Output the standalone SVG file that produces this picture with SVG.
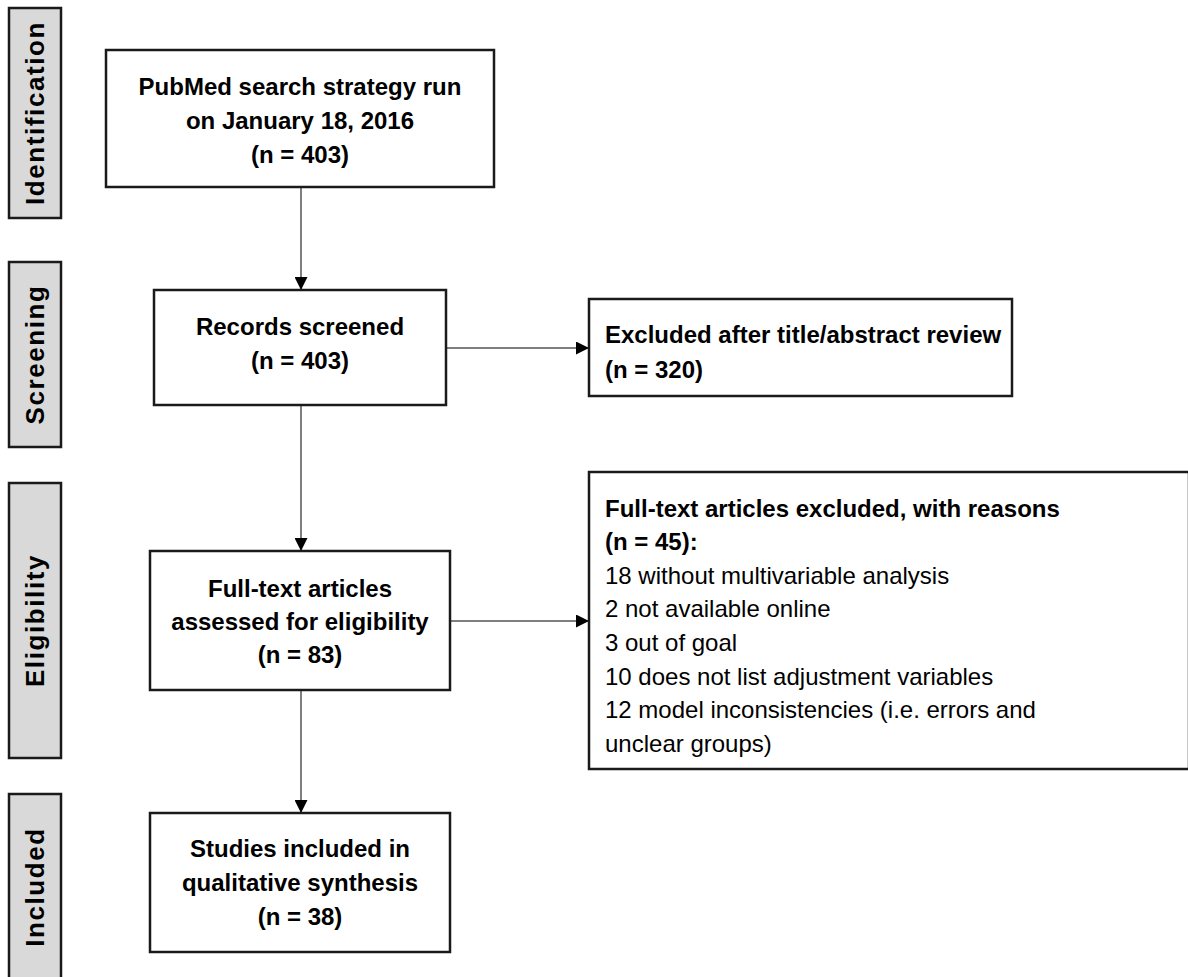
<svg xmlns="http://www.w3.org/2000/svg" width="1188" height="977" viewBox="0 0 1188 977">
<style>
.lab{fill:#d9d9d9;stroke:#1a1a1a;stroke-width:2.5}
.labt{font-family:"Liberation Sans",Arial,sans-serif;font-weight:bold;font-size:26px;letter-spacing:1.6px;fill:#000;text-anchor:middle}
.box{fill:#fff;stroke:#1a1a1a;stroke-width:2.5}
.bt{font-family:"Liberation Sans",Arial,sans-serif;font-weight:bold;font-size:24px;fill:#000}
.rt{font-family:"Liberation Sans",Arial,sans-serif;font-size:24px;fill:#000}
.c{text-anchor:middle}
.con{stroke:#555;stroke-width:1.5;fill:none;marker-end:url(#ah)}
</style>
<defs>
<marker id="ah" viewBox="0 0 10 10" refX="10" refY="5" markerUnits="userSpaceOnUse" markerWidth="13" markerHeight="13" orient="auto">
<path d="M0,0 L10,5 L0,10 z" fill="#000"/>
</marker>
</defs>
<rect width="1188" height="977" fill="#fff"/>
<g id="phase-identification">
<rect class="lab" x="9" y="8" width="52" height="210"/>
<text class="labt" transform="translate(44,113) rotate(-90)">Identification</text>
</g>
<g id="phase-screening">
<rect class="lab" x="9" y="262" width="52" height="185"/>
<text class="labt" transform="translate(44,354.5) rotate(-90)">Screening</text>
</g>
<g id="phase-eligibility">
<rect class="lab" x="9" y="483" width="52" height="275"/>
<text class="labt" transform="translate(44,620.5) rotate(-90)">Eligibility</text>
</g>
<g id="phase-included">
<rect class="lab" x="9" y="794" width="52" height="200"/>
<text class="labt" transform="translate(44,887) rotate(-90)">Included</text>
</g>
<g id="connectors">
<line class="con" x1="301" y1="187" x2="301" y2="290"/>
<line class="con" x1="446" y1="348" x2="589" y2="348"/>
<line class="con" x1="301" y1="405" x2="301" y2="551"/>
<line class="con" x1="450" y1="621" x2="589" y2="621"/>
<line class="con" x1="301" y1="690" x2="301" y2="813"/>
</g>
<g id="identified">
<rect class="box" x="106" y="50" width="388" height="137"/>
<text class="bt c" x="300" y="95">PubMed search strategy run</text>
<text class="bt c" x="300" y="129">on January 18, 2016</text>
<text class="bt c" x="300" y="163">(n = 403)</text>
</g>
<g id="screened">
<rect class="box" x="154" y="290" width="292" height="115"/>
<text class="bt c" x="300" y="335">Records screened</text>
<text class="bt c" x="300" y="369">(n = 403)</text>
</g>
<g id="excluded-abstract">
<rect class="box" x="589" y="299" width="423" height="97"/>
<text class="bt" x="605" y="343">Excluded after title/abstract review</text>
<text class="bt" x="605" y="378">(n = 320)</text>
</g>
<g id="fulltext">
<rect class="box" x="150" y="551" width="300" height="139"/>
<text class="bt c" x="300" y="597">Full-text articles</text>
<text class="bt c" x="300" y="630">assessed for eligibility</text>
<text class="bt c" x="300" y="663">(n = 83)</text>
</g>
<g id="excluded-fulltext">
<rect class="box" x="589" y="472" width="600" height="297"/>
<text class="bt" x="605" y="517">Full-text articles excluded, with reasons</text>
<text class="bt" x="605" y="550">(n = 45):</text>
<text class="rt" x="605" y="584">18 without multivariable analysis</text>
<text class="rt" x="605" y="617">2 not available online</text>
<text class="rt" x="605" y="651">3 out of goal</text>
<text class="rt" x="605" y="685">10 does not list adjustment variables</text>
<text class="rt" x="605" y="718">12 model inconsistencies (i.e. errors and</text>
<text class="rt" x="605" y="752">unclear groups)</text>
</g>
<g id="included">
<rect class="box" x="150" y="813" width="300" height="139"/>
<text class="bt c" x="300" y="857">Studies included in</text>
<text class="bt c" x="300" y="891">qualitative synthesis</text>
<text class="bt c" x="300" y="925">(n = 38)</text>
</g>
</svg>
